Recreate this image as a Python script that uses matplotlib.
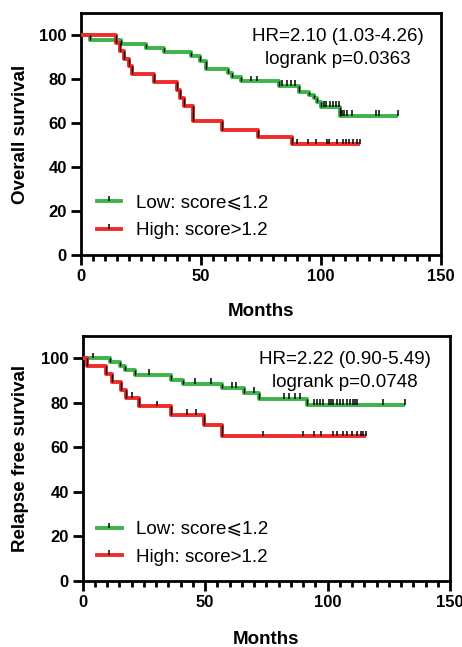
import matplotlib.pyplot as plt
from matplotlib.lines import Line2D
from matplotlib.ticker import MultipleLocator
import numpy as np

plt.rcParams["font.family"] = ["Liberation Sans", "DejaVu Sans"]

GREEN = "#3cb44a"
RED = "#f02b2b"

# Overall survival: event times (months) and survival (%) after each event
os_low_t = [4.0, 16.9, 27.3, 34.7, 46.1, 49.6, 52.3, 61.4, 63.0, 66.7,
            82.8, 91.1, 95.1, 97.2, 98.6, 100.1, 108.0]
os_low_s = [97.9, 96.0, 94.1, 92.3, 90.3, 88.3, 84.5, 82.7, 80.8, 78.9,
            76.8, 74.2, 72.7, 71.2, 69.7, 67.4, 63.4]
os_low_cens = [70.8, 73.3, 83.7, 85.8, 87.6, 89.3, 101.4, 102.2, 103.9, 105.3,
               106.4, 107.6, 108.7, 109.7, 110.8, 112.9, 123.0, 124.2, 132.3]

os_high_t = [14.8, 16.2, 17.9, 20.0, 21.4, 30.5, 40.3, 41.2, 43.0, 46.8,
             58.8, 74.0, 87.9]
os_high_s = [96.5, 92.9, 89.3, 85.7, 82.1, 78.6, 75.0, 71.4, 67.9, 60.7,
             56.9, 53.6, 50.3]
os_high_cens = [90.3, 94.8, 98.0, 102.5, 103.6, 106.6, 109.1, 110.5, 111.9,
                113.6, 115.0, 116.4]

# Relapse free survival
rfs_low_t = [11.0, 15.1, 17.1, 21.2, 36.2, 41.0, 56.9, 65.7, 71.9, 91.6]
rfs_low_s = [98.3, 96.4, 94.6, 92.6, 90.4, 88.4, 86.6, 84.4, 81.8, 79.2]
rfs_low_cens = [4.2, 27.1, 45.7, 52.3, 61.1, 62.5, 69.9, 82.4, 84.2, 86.8, 88.7,
                94.4, 95.5, 96.9, 98.0, 100.7, 101.3, 102.4, 104.0, 105.1,
                106.2, 108.1, 109.2, 110.3, 111.2, 112.2, 122.5, 131.6]

rfs_high_t = [1.6, 9.4, 12.1, 15.8, 17.6, 23.0, 35.9, 49.4, 57.0]
rfs_high_s = [96.6, 92.9, 89.3, 85.6, 82.1, 78.4, 74.6, 69.8, 64.9]
rfs_high_cens = [20.1, 30.5, 42.6, 46.4, 73.5, 90.1, 94.4, 97.2, 102.3, 103.7,
                 106.4, 107.8, 109.8, 111.9, 113.5, 114.6, 115.5]

labels = ["Low: score⩽1.2", "High: score>1.2"]
ylabels = ["Overall survival", "Relapse free survival"]
stats = [("HR=2.10 (1.03-4.26)", "logrank p=0.0363"),
         ("HR=2.22 (0.90-5.49)", "logrank p=0.0748")]


def km_curve(ax, times, surv, cens, color):
    t = np.concatenate([[0], times, [max(cens)]])
    s = np.concatenate([[100], surv, [surv[-1]]])
    ax.step(t, s, where="post", color=color, lw=2.8, zorder=3,
            solid_capstyle="butt")
    # thin dark marks on each drop
    prev = np.concatenate([[100], surv[:-1]])
    ax.vlines(times, surv, prev, color="black", lw=1.0, zorder=4)
    # censored observations
    idx = np.searchsorted(t, cens, side="right") - 1
    lvl = s[idx]
    ax.vlines(cens, lvl, lvl + 2.6, color="black", lw=1.1, zorder=4)


def style_axes(ax, ylabel, stat, lx, ly):
    ax.set_xlim(0, 150)
    ax.set_ylim(0, 110)
    ax.set_xticks([0, 50, 100, 150])
    ax.set_yticks([0, 20, 40, 60, 80, 100])
    ax.xaxis.set_minor_locator(MultipleLocator(5))
    ax.tick_params(which="major", length=7, width=2, labelsize=12, pad=3)
    ax.tick_params(axis="x", which="minor", length=4, width=2)
    for lab in ax.get_xticklabels() + ax.get_yticklabels():
        lab.set_fontweight("bold")
    for sp in ax.spines.values():
        sp.set_linewidth(2)
    ax.set_xlabel("Months", fontsize=13.5, fontweight="bold")
    ax.xaxis.set_label_coords(0.5, ly)
    ax.set_ylabel(ylabel, fontsize=13.5, fontweight="bold", va="center")
    ax.yaxis.set_label_coords(lx, 0.5)
    ax.text(107, 99.5, stat[0], fontsize=13.5, ha="center", va="center")
    ax.text(107, 89, stat[1], fontsize=13.5, ha="center", va="center")


fig = plt.figure(figsize=(4.62, 6.47), dpi=100)
ax1 = fig.add_axes([0.1747, 0.6059, 0.7792, 0.374])
ax2 = fig.add_axes([0.179, 0.1025, 0.795, 0.378])

km_curve(ax1, os_low_t, os_low_s, os_low_cens, GREEN)
km_curve(ax1, os_high_t, os_high_s, os_high_cens, RED)
km_curve(ax2, rfs_low_t, rfs_low_s, rfs_low_cens, GREEN)
km_curve(ax2, rfs_high_t, rfs_high_s, rfs_high_cens, RED)

style_axes(ax1, ylabels[0], stats[0], -0.167, -0.198)
style_axes(ax2, ylabels[1], stats[1], -0.169, -0.206)

for ax, (lx, ly) in [(ax1, (0.044, 0.157)), (ax2, (0.038, 0.153))]:
    handles = [
        Line2D([], [], color=c, lw=2.8, marker=[(0, 0), (0, 1)], markersize=7,
               markeredgecolor="black", markeredgewidth=1.1)
        for c in (GREEN, RED)
    ]
    ax.legend(handles, labels, loc="center left", bbox_to_anchor=(lx, ly),
              frameon=False, fontsize=13.5, handlelength=1.33,
              handletextpad=0.76, labelspacing=0.55, borderpad=0,
              borderaxespad=0, numpoints=1)

fig.savefig("out.png", dpi=100, facecolor="white")
